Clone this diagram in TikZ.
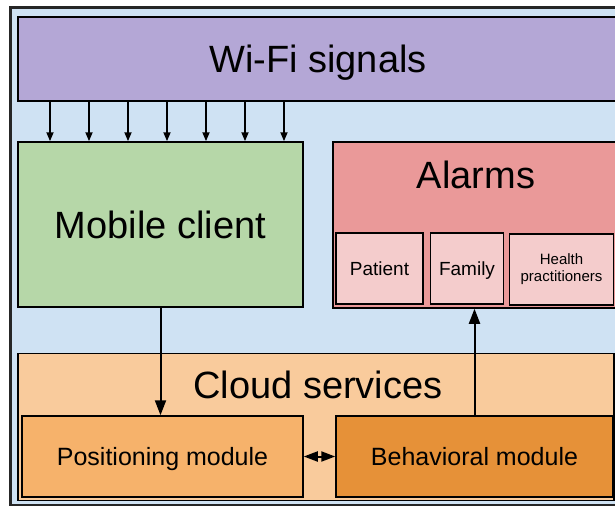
\documentclass[tikz,border=0pt]{standalone}
\usepackage{fontspec}
\setmainfont{Liberation Sans}
\usetikzlibrary{arrows.meta}
\definecolor{skyblue}{HTML}{CFE2F3}
\definecolor{lavender}{HTML}{B4A7D6}
\definecolor{sage}{HTML}{B6D7A8}
\definecolor{rose}{HTML}{EA9999}
\definecolor{blush}{HTML}{F4CCCC}
\definecolor{peach}{HTML}{F9CB9C}
\definecolor{apricot}{HTML}{F6B26B}
\definecolor{amber}{HTML}{E69138}
\tikzstyle{box}=[draw=black, shape=rectangle, line width=1.5pt, inner sep=0pt, align=center]
\tikzstyle{big}=[font=\fontsize{38}{40}\selectfont]
\tikzstyle{mid}=[font=\fontsize{25}{27}\selectfont]
\tikzstyle{small}=[font=\fontsize{19}{21}\selectfont]
\tikzstyle{tiny}=[font=\fontsize{15}{17}\selectfont]
\tikzstyle{feed}=[line width=1.7pt, -{Triangle[length=9pt, width=7pt]}]
\tikzstyle{flow}=[line width=2pt, -{Triangle[length=15pt, width=11pt]}]
\tikzstyle{swap}=[line width=2pt, {Triangle[length=14pt, width=10pt]}-{Triangle[length=14pt, width=10pt]}]

\begin{document}
\begin{tikzpicture}[x=1pt, y=-1pt]
            \useasboundingbox (0,0) rectangle (615,508);
            \fill[white] (0,0) rectangle (615,508);
            \clip (0,0) rectangle (615,508);
            \draw[fill=skyblue, draw=black!85, line width=2.6pt] (10.3,7.5) rectangle (650,505);
            \node[box, big, text depth=0pt, fill=lavender, minimum width=600, minimum height=84] (wifi) at (318,59) {Wi-Fi signals};
            \node[box, big, fill=sage, minimum width=285, minimum height=165] (mobile) at (160.5,224.5) {Mobile client};
            \node[box, fill=rose, minimum width=286, minimum height=166] (alarms) at (476,225) {};
            \node[big] (alarmstitle) at (476,175) {Alarms};
            \node[box, small, fill=blush, minimum width=87, minimum height=71] (patient) at (379.5,268.5) {Patient};
            \node[box, small, text depth=0pt, fill=blush, minimum width=73, minimum height=71] (family) at (467,268.5) {Family};
            \node[box, tiny, fill=blush, minimum width=104, minimum height=71] (health) at (561.5,269.5) {Health\\practitioners};
            \node[box, fill=peach, minimum width=596, minimum height=147] (cloud) at (316,427) {};
            \node[big] (cloudtitle) at (318,385) {Cloud services};
            \node[box, mid, text depth=0pt, fill=apricot, minimum width=281, minimum height=81] (positioning) at (162.5,456.5) {Positioning module};
            \node[box, mid, fill=amber, minimum width=277, minimum height=81] (behavioral) at (474.5,456.5) {Behavioral module};
            \foreach \x in {50,89,128,167,206,245,284}
                \draw[feed] (\x,0 |- wifi.south) -- (\x,0 |- mobile.north);
            \draw[flow] (mobile.south) -- (mobile.south |- positioning.north);
            \draw[flow] (behavioral.north) -- (behavioral.north |- alarms.south);
            \draw[swap] (positioning.east) -- (behavioral.west);
	    \end{tikzpicture}
\end{document}
